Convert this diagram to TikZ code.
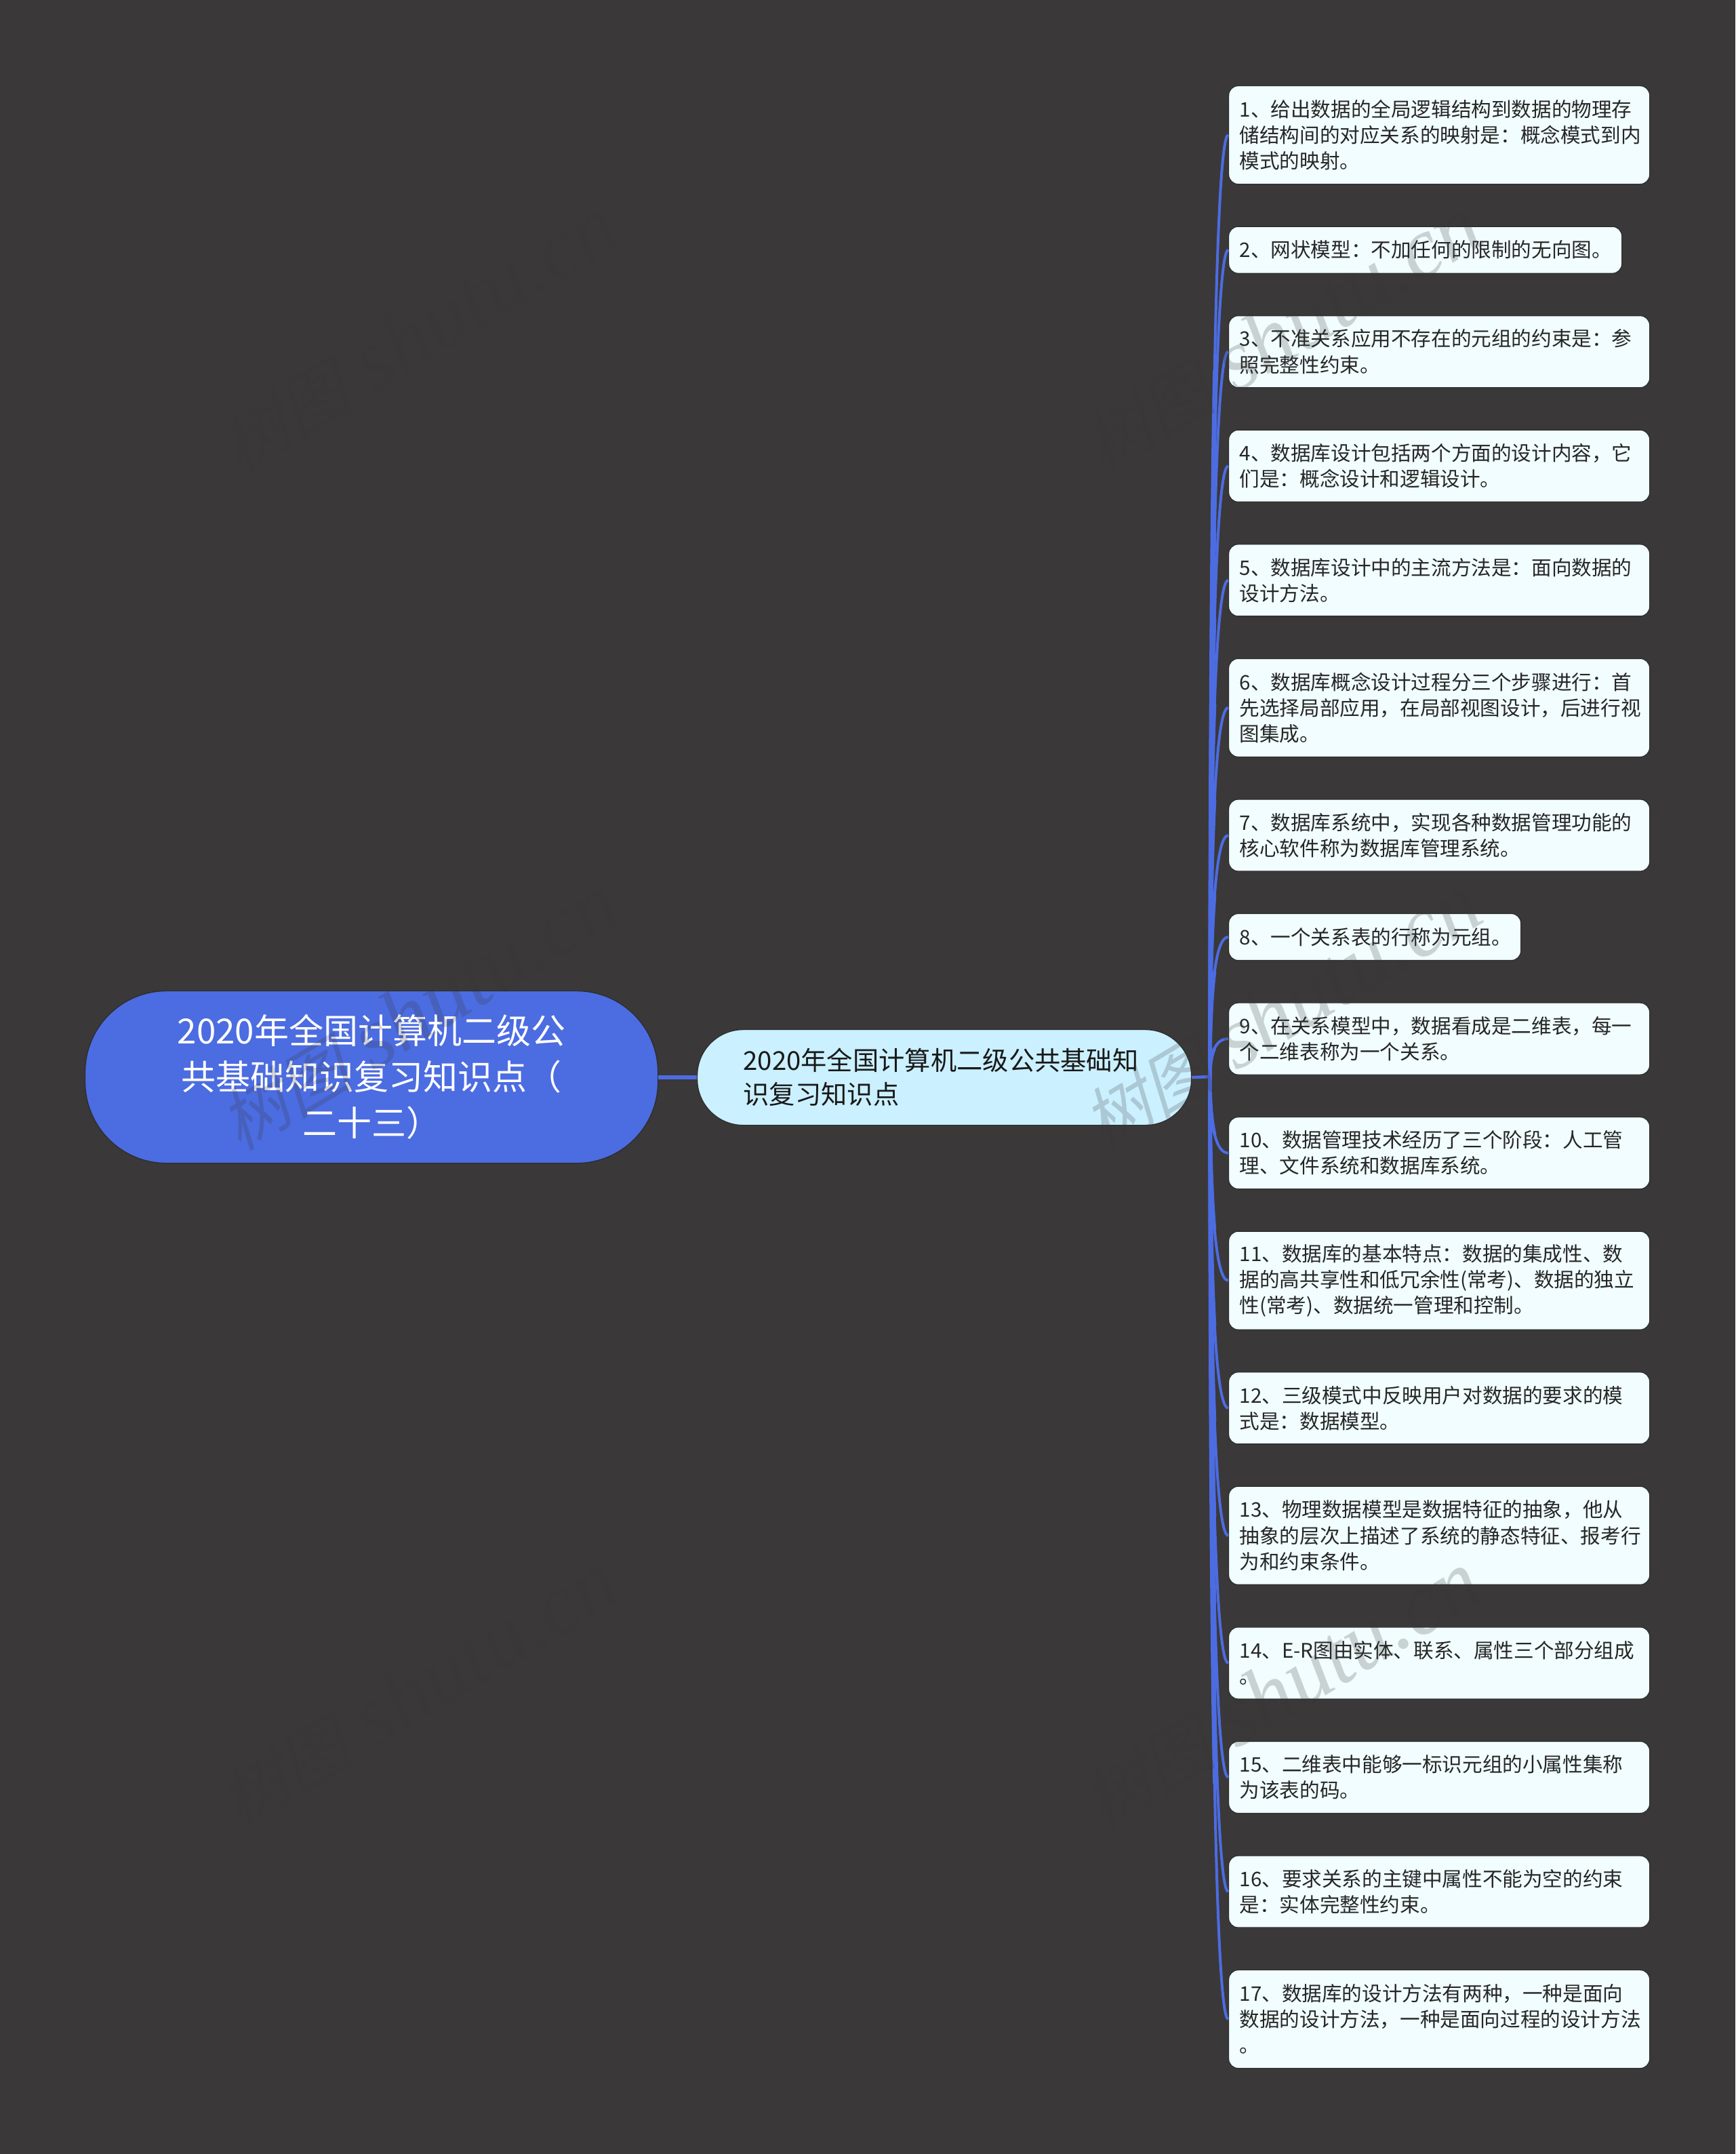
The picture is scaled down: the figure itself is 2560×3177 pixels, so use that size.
\documentclass[tikz,border=0pt]{standalone}
\usepackage{fontspec}
\usetikzlibrary{calc}
\setmainfont{Noto Sans CJK SC}
\newfontfamily\wmcjk[FakeSlant=0.25]{Noto Sans CJK SC}
\newfontfamily\wmlat{Liberation Serif}
\definecolor{bgdark}{HTML}{3A3839}
\definecolor{linkblue}{HTML}{4C6CE1}
\definecolor{leaffill}{HTML}{F1FDFE}
\definecolor{subfill}{HTML}{CBF0FF}
\definecolor{edgedark}{HTML}{2C2C2C}
\definecolor{wmink}{HTML}{363636}
\tikzset{
  x=1pt,y=-1pt,
  leaf/.style={anchor=north west,draw=edgedark,line width=1.2pt,fill=leaffill,rounded corners=14pt,
    inner xsep=16pt,inner ysep=0pt,align=left,text=black!85,
    font=\fontsize{29.6}{38.2}\selectfont,text width=#1-32pt},
  leaf/.default=621pt,
  rootbox/.style={anchor=north west,draw=edgedark,line width=1.2pt,fill=linkblue,rounded corners=120pt,
    inner xsep=20pt,inner ysep=0pt,align=center,text=white,minimum height=254pt,text width=805pt,
    font=\fontsize{51}{68}\selectfont},
  subbox/.style={anchor=north west,draw=edgedark,line width=1.2pt,fill=subfill,rounded corners=68pt,
    inner xsep=68pt,inner ysep=0pt,align=left,text=black!90,minimum height=141pt,text width=593pt,
    font=\fontsize{38.3}{50}\selectfont},
  h3/.style={minimum height=145pt},
  h2/.style={minimum height=106pt},
  h1/.style={minimum height=69pt},
  conn/.style={draw=linkblue,line width=4pt},
  connbase/.style={draw=linkblue,line width=5.2pt},
  trunk/.style={draw=linkblue,line width=4.5pt},
  mainlink/.style={draw=linkblue,line width=6pt},
  wmark/.style={anchor=base west,rotate=31,inner sep=0pt,text=wmink,text opacity=.21}
}
\newcommand{\wmtext}{{\fontsize{100}{100}\selectfont\wmcjk 树图\hspace{30pt}\fontsize{129}{129}\selectfont\wmlat\itshape shutu.cn}}
\newcommand{\linkto}[1]{%
  \coordinate (ctl) at (hub|-#1.west);
  \coordinate (qq) at ($(hub)!0.5!(ctl)$);
  \coordinate (mm) at ($(qq)!0.5!($(ctl)!0.5!(#1.west)$)$);
  \draw[conn] (hub) .. controls ($(hub)!0.667!(ctl)$) and ($(#1.west)!0.667!(ctl)$) .. (#1.west);
  \draw[connbase] (hub) .. controls ($(hub)!0.667!(qq)$) and ($(mm)!0.667!(qq)$) .. (mm);
}
\begin{document}
\begin{tikzpicture}
\useasboundingbox (0,0) rectangle (2560,3177);
\clip (0,0) rectangle (2560,3177);
\fill[bgdark] (0,0) rectangle (2560,3177);

\node[rootbox] (root) at (125,1461) {2020年全国计算机二级公\\共基础知识复习知识点（\\二十三）};
\node[subbox] (sub) at (1028,1518) {2020年全国计算机二级公共基础知\\识复习知识点};
\coordinate (hub) at (1785,1588);

\node[leaf,h3] (b1) at (1812,126) {1、给出数据的全局逻辑结构到数据的物理存\\储结构间的对应关系的映射是：概念模式到内\\模式的映射。};
\node[leaf=580pt,h1] (b2) at (1812,333.6) {2、网状模型：不加任何的限制的无向图。};
\node[leaf,h2] (b3) at (1812,465.1) {3、不准关系应用不存在的元组的约束是：参\\照完整性约束。};
\node[leaf,h2] (b4) at (1812,633.7) {4、数据库设计包括两个方面的设计内容，它\\们是：概念设计和逻辑设计。};
\node[leaf,h2] (b5) at (1812,802.2) {5、数据库设计中的主流方法是：面向数据的\\设计方法。};
\node[leaf,h3] (b6) at (1812,970.8) {6、数据库概念设计过程分三个步骤进行：首\\先选择局部应用，在局部视图设计，后进行视\\图集成。};
\node[leaf,h2] (b7) at (1812,1178.4) {7、数据库系统中，实现各种数据管理功能的\\核心软件称为数据库管理系统。};
\node[leaf=431pt,h1] (b8) at (1812,1346.9) {8、一个关系表的行称为元组。};
\node[leaf,h2] (b9) at (1812,1478.5) {9、在关系模型中，数据看成是二维表，每一\\个二维表称为一个关系。};
\node[leaf,h2] (b10) at (1812,1647) {10、数据管理技术经历了三个阶段：人工管\\理、文件系统和数据库系统。};
\node[leaf,h3] (b11) at (1812,1815.6) {11、数据库的基本特点：数据的集成性、数\\据的高共享性和低冗余性(常考)、数据的独立\\性(常考)、数据统一管理和控制。};
\node[leaf,h2] (b12) at (1812,2023.2) {12、三级模式中反映用户对数据的要求的模\\式是：数据模型。};
\node[leaf,h3] (b13) at (1812,2191.7) {13、物理数据模型是数据特征的抽象，他从\\抽象的层次上描述了系统的静态特征、报考行\\为和约束条件。};
\node[leaf,h2] (b14) at (1812,2399.3) {14、E-R图由实体、联系、属性三个部分组成\\。};
\node[leaf,h2] (b15) at (1812,2567.8) {15、二维表中能够一标识元组的小属性集称\\为该表的码。};
\node[leaf,h2] (b16) at (1812,2736.4) {16、要求关系的主键中属性不能为空的约束\\是：实体完整性约束。};
\node[leaf,h3] (b17) at (1812,2905) {17、数据库的设计方法有两种，一种是面向\\数据的设计方法，一种是面向过程的设计方法\\。};

\draw[mainlink] (root.east) -- (root.east-|sub.west);
\draw[trunk] (sub.east) -- (hub);
\foreach \n in {b1,b2,b3,b4,b5,b6,b7,b8,b9,b10,b11,b12,b13,b14,b15,b16,b17}{\linkto{\n}}

\foreach \wx/\cn in {353/a,1626/b}{
  \foreach \wy/\rn in {-301/z,699/c,1699/d,2699/e,3699/f}{
    \node[wmark] (wm\cn\rn) at (\wx,\wy) {\wmtext};
  }
}
\end{tikzpicture}
\end{document}
